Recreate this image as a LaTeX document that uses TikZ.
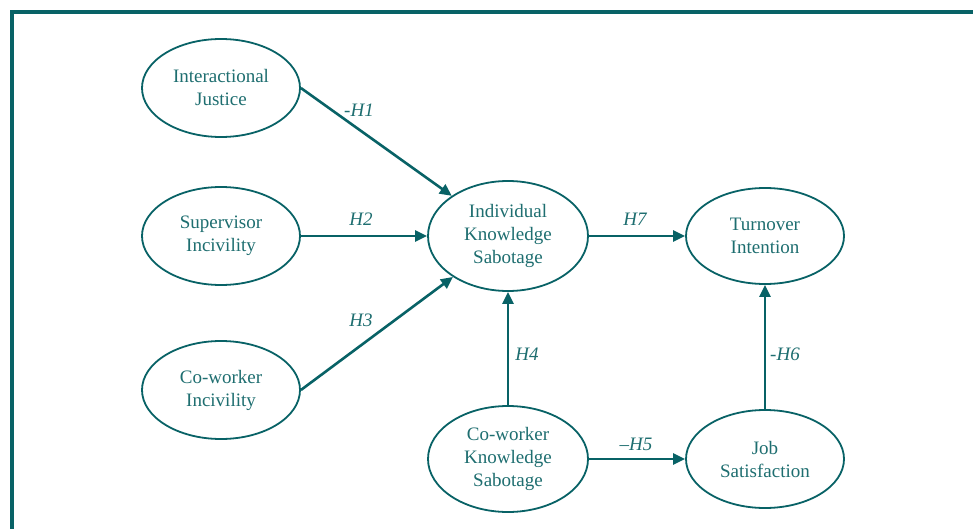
\documentclass[tikz,border=0pt]{standalone}
\usepackage{fontspec}
\setmainfont{Liberation Serif}
\usetikzlibrary{shapes.geometric,arrows.meta}
\definecolor{teal1}{RGB}{8,98,102}
\definecolor{tealtxt}{RGB}{30,110,112}
\tikzset{
  constr/.style={ellipse,draw=teal1,line width=1.8pt,minimum width=158pt,minimum height=98pt,inner sep=0pt,
    align=center,text=tealtxt,font=\fontsize{19}{23}\selectfont},
  path1/.style={draw=teal1,line width=2.6pt,-{Triangle[length=12pt,width=11pt]}},
  hlabel/.style={text=tealtxt,font=\fontsize{19}{23}\selectfont\itshape,inner sep=0pt}
}
\begin{document}
\begin{tikzpicture}[x=1pt,y=-1pt]
\useasboundingbox (0,0) rectangle (973,529);
\fill[white] (0,0) rectangle (973,529);
\draw[teal1,line width=4pt] (12,529) -- (12,12) -- (973,12);

\node[constr] (ij) at (221,88) {Interactional\\Justice};
\node[constr] (si) at (221,236) {Supervisor\\Incivility};
\node[constr] (cwi) at (221,390) {Co-worker\\Incivility};
\node[constr,minimum width=160pt,minimum height=110pt] (iks) at (508,236) {Individual\\Knowledge\\Sabotage};
\node[constr,minimum height=96pt] (ti) at (765,236) {Turnover\\Intention};
\node[constr,minimum width=160pt,minimum height=106pt] (cks) at (508,459) {Co-worker\\Knowledge\\Sabotage};
\node[constr] (js) at (765,459) {Job\\Satisfaction};

\path[path1] (ij.east) -- (iks);
\path[path1] (si.east) -- (iks.west);
\path[path1] (cwi.east) -- (iks);
\path[path1] (iks.east) -- (ti.west);
\path[path1] (cks.north) -- (iks.south);
\path[path1] (cks.east) -- (js.west);
\path[path1] (js.north) -- (ti.south);

\node[hlabel] (h1) at (359,110) {-H1};
\node[hlabel] (h2) at (361,219) {H2};
\node[hlabel] (h3) at (361,320) {H3};
\node[hlabel] (h7) at (635,219) {H7};
\node[hlabel] (h4) at (527,354) {H4};
\node[hlabel] (h5) at (636,444) {–H5};
\node[hlabel] (h6) at (785,354) {-H6};
\end{tikzpicture}
\end{document}
